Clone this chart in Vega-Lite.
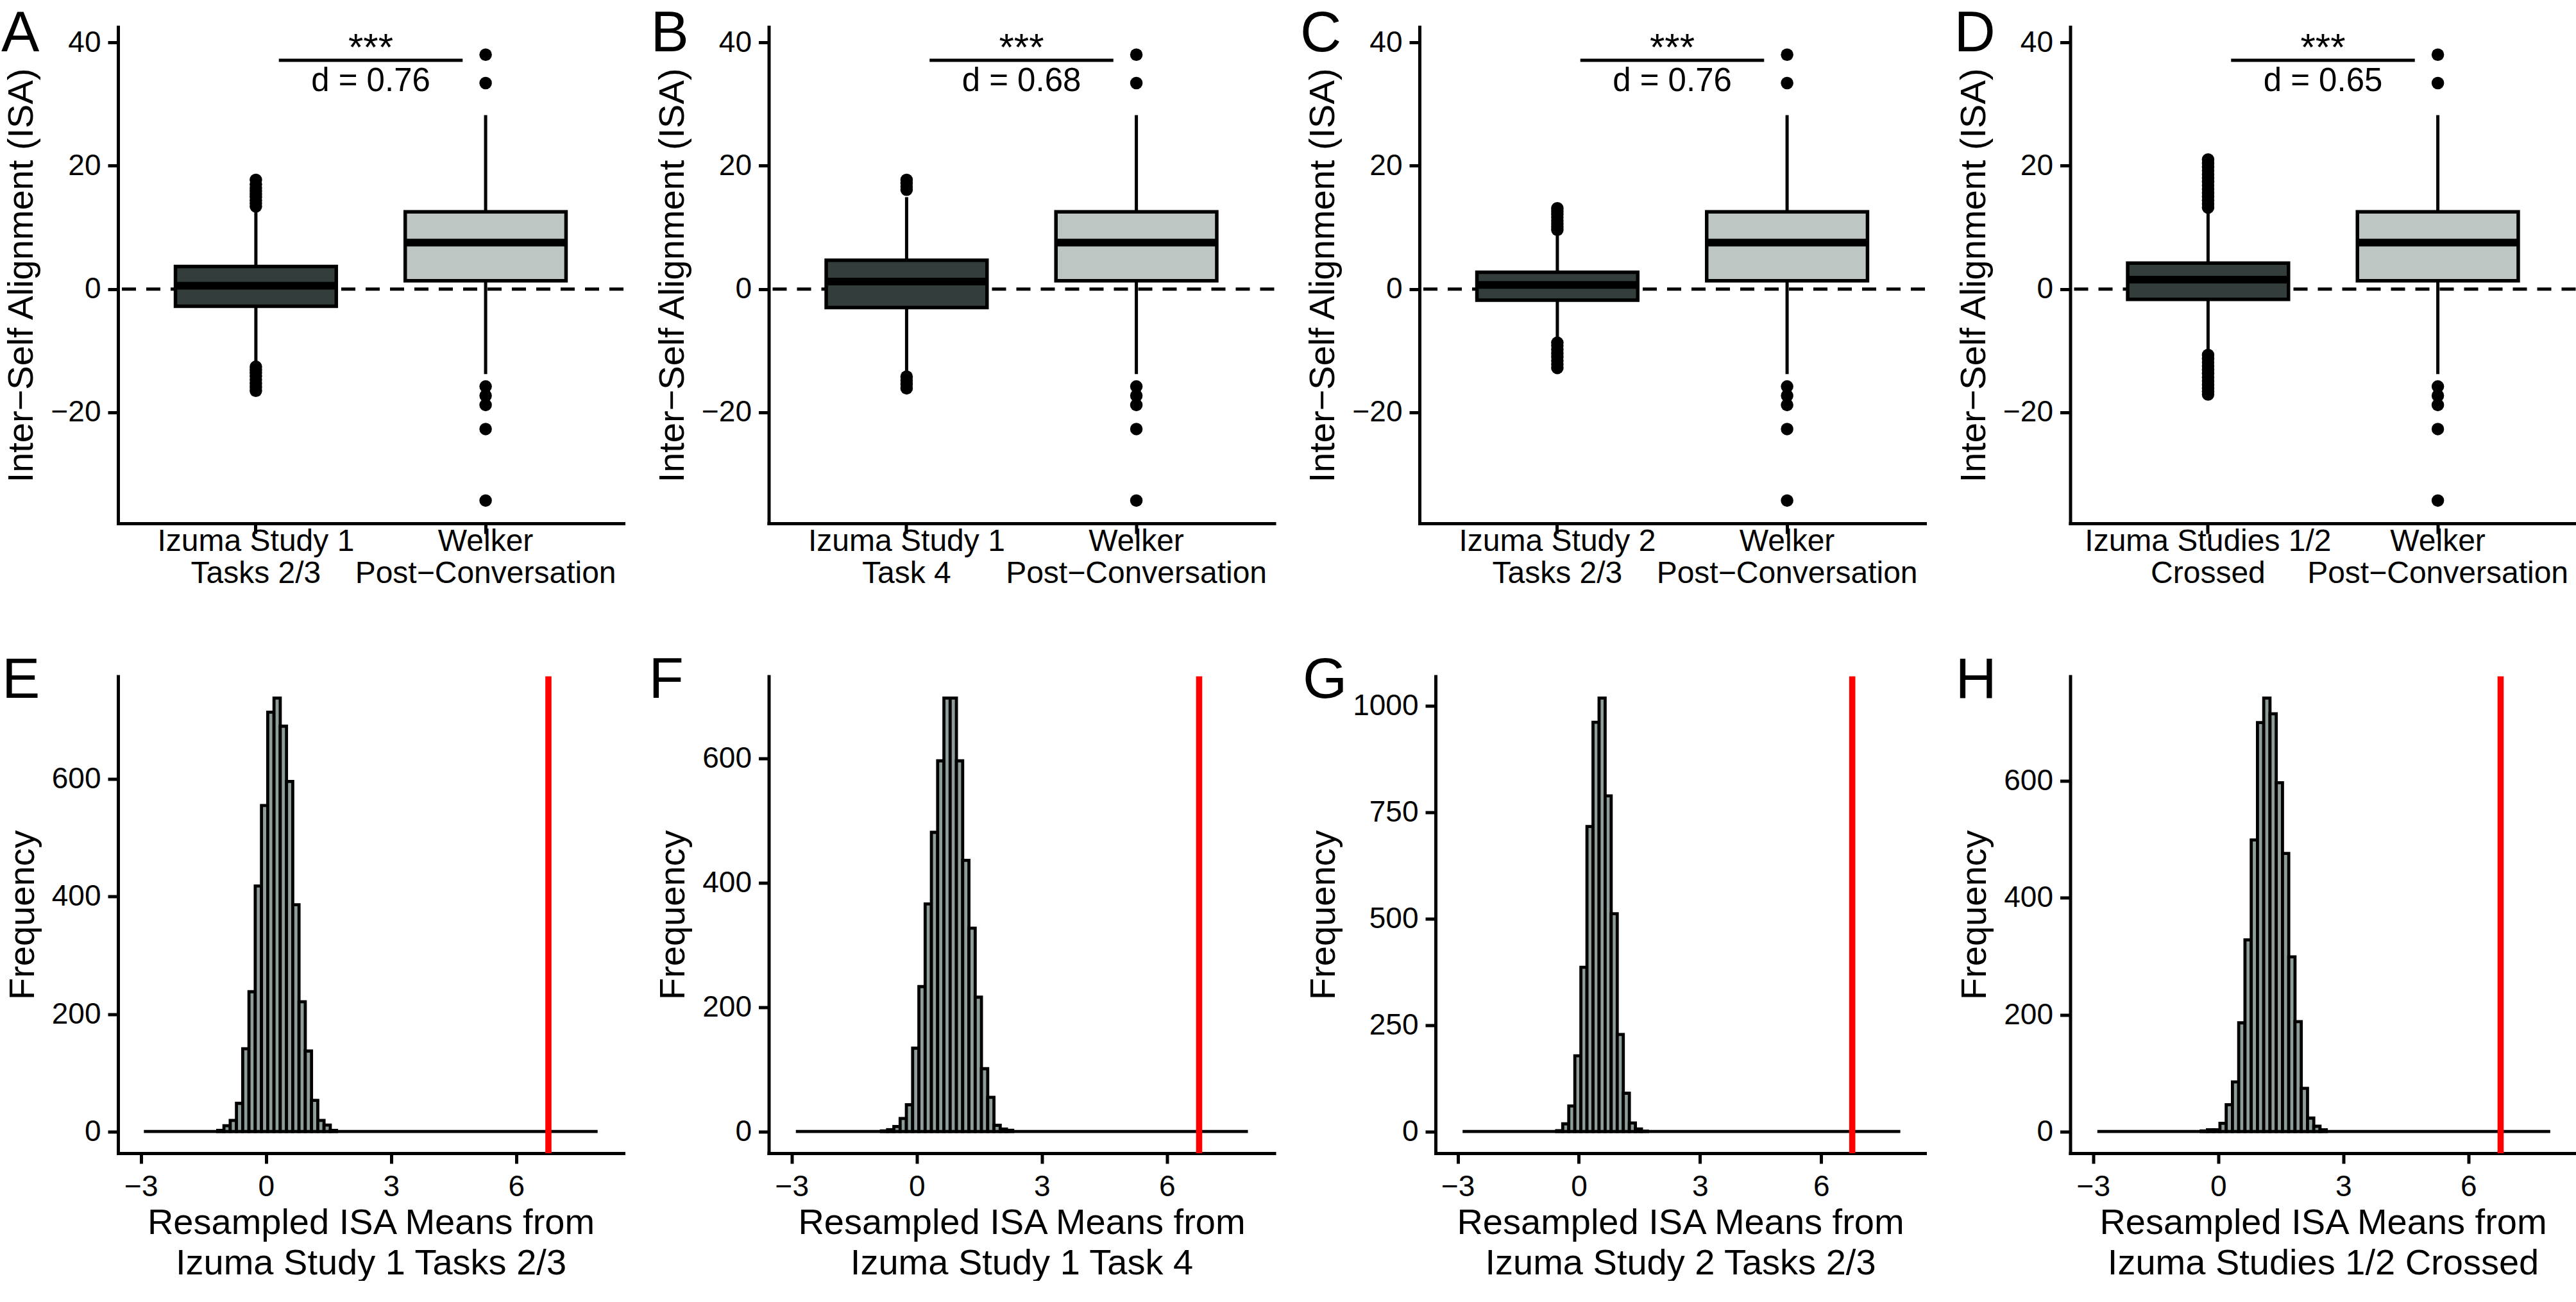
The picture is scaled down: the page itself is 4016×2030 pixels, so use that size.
{
"$schema": "https://vega.github.io/schema/vega-lite/v6.json",
"background": "white",
"autosize": {"type": "pad"},
"padding": {"left": 2, "top": 9, "right": 0, "bottom": 0},
"datasets": {
"boxes": [
{"panel":"A","group":"Izuma Study 1\nTasks 2/3","kind":"Izuma","lower":-12.3,"q1":-2.8,"median":0.53,"q3":3.66,"upper":13.0},
{"panel":"A","group":"Welker\nPost−Conversation","kind":"Welker","lower":-13.8,"q1":1.33,"median":7.53,"q3":12.53,"upper":28.2},
{"panel":"B","group":"Izuma Study 1\nTask 4","kind":"Izuma","lower":-13.6,"q1":-3.0,"median":1.2,"q3":4.66,"upper":14.9},
{"panel":"B","group":"Welker\nPost−Conversation","kind":"Welker","lower":-13.8,"q1":1.33,"median":7.53,"q3":12.53,"upper":28.2},
{"panel":"C","group":"Izuma Study 2\nTasks 2/3","kind":"Izuma","lower":-8.0,"q1":-1.8,"median":0.66,"q3":2.73,"upper":9.0},
{"panel":"C","group":"Welker\nPost−Conversation","kind":"Welker","lower":-13.8,"q1":1.33,"median":7.53,"q3":12.53,"upper":28.2},
{"panel":"D","group":"Izuma Studies 1/2\nCrossed","kind":"Izuma","lower":-10.3,"q1":-1.67,"median":1.53,"q3":4.2,"upper":12.5},
{"panel":"D","group":"Welker\nPost−Conversation","kind":"Welker","lower":-13.8,"q1":1.33,"median":7.53,"q3":12.53,"upper":28.2}
],
"outliers": [
{"panel":"A","group":"Izuma Study 1\nTasks 2/3","value":13.4},{"panel":"A","group":"Izuma Study 1\nTasks 2/3","value":13.9},{"panel":"A","group":"Izuma Study 1\nTasks 2/3","value":14.4},{"panel":"A","group":"Izuma Study 1\nTasks 2/3","value":14.9},{"panel":"A","group":"Izuma Study 1\nTasks 2/3","value":15.4},{"panel":"A","group":"Izuma Study 1\nTasks 2/3","value":15.9},{"panel":"A","group":"Izuma Study 1\nTasks 2/3","value":16.4},{"panel":"A","group":"Izuma Study 1\nTasks 2/3","value":17.0},{"panel":"A","group":"Izuma Study 1\nTasks 2/3","value":17.7},
{"panel":"A","group":"Izuma Study 1\nTasks 2/3","value":-12.6},{"panel":"A","group":"Izuma Study 1\nTasks 2/3","value":-13.1},{"panel":"A","group":"Izuma Study 1\nTasks 2/3","value":-13.6},{"panel":"A","group":"Izuma Study 1\nTasks 2/3","value":-14.1},{"panel":"A","group":"Izuma Study 1\nTasks 2/3","value":-14.7},{"panel":"A","group":"Izuma Study 1\nTasks 2/3","value":-15.3},{"panel":"A","group":"Izuma Study 1\nTasks 2/3","value":-15.9},{"panel":"A","group":"Izuma Study 1\nTasks 2/3","value":-16.5},
{"panel":"A","group":"Welker\nPost−Conversation","value":38.0},{"panel":"A","group":"Welker\nPost−Conversation","value":33.4},{"panel":"A","group":"Welker\nPost−Conversation","value":-15.8},{"panel":"A","group":"Welker\nPost−Conversation","value":-17.3},{"panel":"A","group":"Welker\nPost−Conversation","value":-18.8},{"panel":"A","group":"Welker\nPost−Conversation","value":-22.7},{"panel":"A","group":"Welker\nPost−Conversation","value":-34.3},
{"panel":"B","group":"Izuma Study 1\nTask 4","value":16.1},{"panel":"B","group":"Izuma Study 1\nTask 4","value":16.6},{"panel":"B","group":"Izuma Study 1\nTask 4","value":17.2},{"panel":"B","group":"Izuma Study 1\nTask 4","value":17.7},
{"panel":"B","group":"Izuma Study 1\nTask 4","value":-14.2},{"panel":"B","group":"Izuma Study 1\nTask 4","value":-14.8},{"panel":"B","group":"Izuma Study 1\nTask 4","value":-15.4},{"panel":"B","group":"Izuma Study 1\nTask 4","value":-16.1},
{"panel":"B","group":"Welker\nPost−Conversation","value":38.0},{"panel":"B","group":"Welker\nPost−Conversation","value":33.4},{"panel":"B","group":"Welker\nPost−Conversation","value":-15.8},{"panel":"B","group":"Welker\nPost−Conversation","value":-17.3},{"panel":"B","group":"Welker\nPost−Conversation","value":-18.8},{"panel":"B","group":"Welker\nPost−Conversation","value":-22.7},{"panel":"B","group":"Welker\nPost−Conversation","value":-34.3},
{"panel":"C","group":"Izuma Study 2\nTasks 2/3","value":9.6},{"panel":"C","group":"Izuma Study 2\nTasks 2/3","value":10.1},{"panel":"C","group":"Izuma Study 2\nTasks 2/3","value":10.6},{"panel":"C","group":"Izuma Study 2\nTasks 2/3","value":11.1},{"panel":"C","group":"Izuma Study 2\nTasks 2/3","value":11.6},{"panel":"C","group":"Izuma Study 2\nTasks 2/3","value":12.1},{"panel":"C","group":"Izuma Study 2\nTasks 2/3","value":12.6},{"panel":"C","group":"Izuma Study 2\nTasks 2/3","value":13.1},
{"panel":"C","group":"Izuma Study 2\nTasks 2/3","value":-8.7},{"panel":"C","group":"Izuma Study 2\nTasks 2/3","value":-9.2},{"panel":"C","group":"Izuma Study 2\nTasks 2/3","value":-9.8},{"panel":"C","group":"Izuma Study 2\nTasks 2/3","value":-10.4},{"panel":"C","group":"Izuma Study 2\nTasks 2/3","value":-11.0},{"panel":"C","group":"Izuma Study 2\nTasks 2/3","value":-11.6},{"panel":"C","group":"Izuma Study 2\nTasks 2/3","value":-12.2},{"panel":"C","group":"Izuma Study 2\nTasks 2/3","value":-12.8},
{"panel":"C","group":"Welker\nPost−Conversation","value":38.0},{"panel":"C","group":"Welker\nPost−Conversation","value":33.4},{"panel":"C","group":"Welker\nPost−Conversation","value":-15.8},{"panel":"C","group":"Welker\nPost−Conversation","value":-17.3},{"panel":"C","group":"Welker\nPost−Conversation","value":-18.8},{"panel":"C","group":"Welker\nPost−Conversation","value":-22.7},{"panel":"C","group":"Welker\nPost−Conversation","value":-34.3},
{"panel":"D","group":"Izuma Studies 1/2\nCrossed","value":13.2},{"panel":"D","group":"Izuma Studies 1/2\nCrossed","value":13.8},{"panel":"D","group":"Izuma Studies 1/2\nCrossed","value":14.4},{"panel":"D","group":"Izuma Studies 1/2\nCrossed","value":15.0},{"panel":"D","group":"Izuma Studies 1/2\nCrossed","value":15.6},{"panel":"D","group":"Izuma Studies 1/2\nCrossed","value":16.2},{"panel":"D","group":"Izuma Studies 1/2\nCrossed","value":16.8},{"panel":"D","group":"Izuma Studies 1/2\nCrossed","value":17.4},{"panel":"D","group":"Izuma Studies 1/2\nCrossed","value":18.0},{"panel":"D","group":"Izuma Studies 1/2\nCrossed","value":18.6},{"panel":"D","group":"Izuma Studies 1/2\nCrossed","value":19.2},{"panel":"D","group":"Izuma Studies 1/2\nCrossed","value":19.8},{"panel":"D","group":"Izuma Studies 1/2\nCrossed","value":20.4},{"panel":"D","group":"Izuma Studies 1/2\nCrossed","value":21.0},
{"panel":"D","group":"Izuma Studies 1/2\nCrossed","value":-10.7},{"panel":"D","group":"Izuma Studies 1/2\nCrossed","value":-11.3},{"panel":"D","group":"Izuma Studies 1/2\nCrossed","value":-11.9},{"panel":"D","group":"Izuma Studies 1/2\nCrossed","value":-12.5},{"panel":"D","group":"Izuma Studies 1/2\nCrossed","value":-13.1},{"panel":"D","group":"Izuma Studies 1/2\nCrossed","value":-13.7},{"panel":"D","group":"Izuma Studies 1/2\nCrossed","value":-14.3},{"panel":"D","group":"Izuma Studies 1/2\nCrossed","value":-14.9},{"panel":"D","group":"Izuma Studies 1/2\nCrossed","value":-15.5},{"panel":"D","group":"Izuma Studies 1/2\nCrossed","value":-16.1},{"panel":"D","group":"Izuma Studies 1/2\nCrossed","value":-16.6},{"panel":"D","group":"Izuma Studies 1/2\nCrossed","value":-17.1},
{"panel":"D","group":"Welker\nPost−Conversation","value":38.0},{"panel":"D","group":"Welker\nPost−Conversation","value":33.4},{"panel":"D","group":"Welker\nPost−Conversation","value":-15.8},{"panel":"D","group":"Welker\nPost−Conversation","value":-17.3},{"panel":"D","group":"Welker\nPost−Conversation","value":-18.8},{"panel":"D","group":"Welker\nPost−Conversation","value":-22.7},{"panel":"D","group":"Welker\nPost−Conversation","value":-34.3}
],
"sig": [
{"panel":"A","xmin":1.1,"xmax":1.9,"xmid":1.5,"ybar":37.1,"ytext":32.06,"stars":"***","label":"d = 0.76"},
{"panel":"B","xmin":1.1,"xmax":1.9,"xmid":1.5,"ybar":37.1,"ytext":32.06,"stars":"***","label":"d = 0.68"},
{"panel":"C","xmin":1.1,"xmax":1.9,"xmid":1.5,"ybar":37.1,"ytext":32.06,"stars":"***","label":"d = 0.76"},
{"panel":"D","xmin":1.1,"xmax":1.9,"xmid":1.5,"ybar":37.1,"ytext":32.06,"stars":"***","label":"d = 0.65"}
],
"hist": [
{"panel":"E","x0":-1.16,"x1":-1.01,"count":2},{"panel":"E","x0":-1.01,"x1":-0.86,"count":10},{"panel":"E","x0":-0.86,"x1":-0.71,"count":19},{"panel":"E","x0":-0.71,"x1":-0.56,"count":48},{"panel":"E","x0":-0.56,"x1":-0.41,"count":141},{"panel":"E","x0":-0.41,"x1":-0.26,"count":238},{"panel":"E","x0":-0.26,"x1":-0.11,"count":418},{"panel":"E","x0":-0.11,"x1":0.04,"count":555},{"panel":"E","x0":0.04,"x1":0.19,"count":714},{"panel":"E","x0":0.19,"x1":0.34,"count":738},{"panel":"E","x0":0.34,"x1":0.49,"count":690},{"panel":"E","x0":0.49,"x1":0.64,"count":596},{"panel":"E","x0":0.64,"x1":0.79,"count":386},{"panel":"E","x0":0.79,"x1":0.94,"count":221},{"panel":"E","x0":0.94,"x1":1.09,"count":137},{"panel":"E","x0":1.09,"x1":1.24,"count":53},{"panel":"E","x0":1.24,"x1":1.39,"count":19},{"panel":"E","x0":1.39,"x1":1.54,"count":11},{"panel":"E","x0":1.54,"x1":1.69,"count":2},
{"panel":"F","x0":-0.85,"x1":-0.70,"count":1},{"panel":"F","x0":-0.70,"x1":-0.55,"count":3},{"panel":"F","x0":-0.55,"x1":-0.40,"count":8},{"panel":"F","x0":-0.40,"x1":-0.25,"count":21},{"panel":"F","x0":-0.25,"x1":-0.10,"count":43},{"panel":"F","x0":-0.10,"x1":0.05,"count":134},{"panel":"F","x0":0.05,"x1":0.20,"count":233},{"panel":"F","x0":0.20,"x1":0.35,"count":366},{"panel":"F","x0":0.35,"x1":0.50,"count":481},{"panel":"F","x0":0.50,"x1":0.65,"count":596},{"panel":"F","x0":0.65,"x1":0.80,"count":697},{"panel":"F","x0":0.80,"x1":0.95,"count":697},{"panel":"F","x0":0.95,"x1":1.10,"count":596},{"panel":"F","x0":1.10,"x1":1.25,"count":436},{"panel":"F","x0":1.25,"x1":1.40,"count":327},{"panel":"F","x0":1.40,"x1":1.55,"count":216},{"panel":"F","x0":1.55,"x1":1.70,"count":101},{"panel":"F","x0":1.70,"x1":1.85,"count":55},{"panel":"F","x0":1.85,"x1":2.00,"count":10},{"panel":"F","x0":2.00,"x1":2.15,"count":4},{"panel":"F","x0":2.15,"x1":2.30,"count":2},
{"panel":"G","x0":-0.55,"x1":-0.40,"count":2},{"panel":"G","x0":-0.40,"x1":-0.25,"count":18},{"panel":"G","x0":-0.25,"x1":-0.10,"count":60},{"panel":"G","x0":-0.10,"x1":0.05,"count":178},{"panel":"G","x0":0.05,"x1":0.20,"count":386},{"panel":"G","x0":0.20,"x1":0.35,"count":717},{"panel":"G","x0":0.35,"x1":0.50,"count":962},{"panel":"G","x0":0.50,"x1":0.65,"count":1019},{"panel":"G","x0":0.65,"x1":0.80,"count":789},{"panel":"G","x0":0.80,"x1":0.95,"count":512},{"panel":"G","x0":0.95,"x1":1.10,"count":228},{"panel":"G","x0":1.10,"x1":1.25,"count":90},{"panel":"G","x0":1.25,"x1":1.40,"count":20},{"panel":"G","x0":1.40,"x1":1.55,"count":6},{"panel":"G","x0":1.55,"x1":1.70,"count":1},
{"panel":"H","x0":-0.41,"x1":-0.26,"count":1},{"panel":"H","x0":-0.26,"x1":-0.11,"count":3},{"panel":"H","x0":-0.11,"x1":0.04,"count":3},{"panel":"H","x0":0.04,"x1":0.19,"count":14},{"panel":"H","x0":0.19,"x1":0.34,"count":46},{"panel":"H","x0":0.34,"x1":0.49,"count":85},{"panel":"H","x0":0.49,"x1":0.64,"count":186},{"panel":"H","x0":0.64,"x1":0.79,"count":328},{"panel":"H","x0":0.79,"x1":0.94,"count":499},{"panel":"H","x0":0.94,"x1":1.09,"count":700},{"panel":"H","x0":1.09,"x1":1.24,"count":742},{"panel":"H","x0":1.24,"x1":1.39,"count":715},{"panel":"H","x0":1.39,"x1":1.54,"count":597},{"panel":"H","x0":1.54,"x1":1.69,"count":476},{"panel":"H","x0":1.69,"x1":1.84,"count":299},{"panel":"H","x0":1.84,"x1":1.99,"count":188},{"panel":"H","x0":1.99,"x1":2.14,"count":74},{"panel":"H","x0":2.14,"x1":2.29,"count":23},{"panel":"H","x0":2.29,"x1":2.44,"count":9},{"panel":"H","x0":2.44,"x1":2.59,"count":3}
],
"hbase": [
{"panel":"E","x0":-2.93,"x1":7.95},{"panel":"F","x0":-2.9,"x1":7.94},{"panel":"G","x0":-2.88,"x1":7.96},{"panel":"H","x0":-2.9,"x1":7.96}
],
"observed": [
{"panel":"E","value":6.77},{"panel":"F","value":6.77},{"panel":"G","value":6.77},{"panel":"H","value":6.77}
]
},
"concat": [
{
"title": {"text": "A", "dx": -182, "dy": 61},
"width": 788, "height": 774,
"resolve": {"scale": {"x": "independent"}},
"layer": [
{"layer": [
{"data": {"name": "sig"}, "transform": [{"filter": "datum.panel == 'A'"}], "mark": {"type": "rule", "strokeDash": [22, 16], "strokeWidth": 5, "color": "#000"}, "encoding": {"y": {"datum": 0, "type": "quantitative", "scale": {"domain": [-38, 42.5], "nice": false, "zero": false}}}},
{"data": {"name": "boxes"}, "transform": [{"filter": "datum.panel == 'A'"}], "mark": {"type": "rule", "strokeWidth": 5, "color": "#000"}, "encoding": {"x": {"field": "group", "type": "nominal", "scale": {"type": "band", "domain": ["Izuma Study 1\nTasks 2/3", "Welker\nPost−Conversation"], "paddingInner": 0, "paddingOuter": 0.1}}, "y": {"field": "lower", "type": "quantitative", "scale": {"domain": [-38, 42.5], "nice": false, "zero": false}}, "y2": {"field": "q1"}}},
{"data": {"name": "boxes"}, "transform": [{"filter": "datum.panel == 'A'"}], "mark": {"type": "rule", "strokeWidth": 5, "color": "#000"}, "encoding": {"x": {"field": "group", "type": "nominal", "scale": {"type": "band", "domain": ["Izuma Study 1\nTasks 2/3", "Welker\nPost−Conversation"], "paddingInner": 0, "paddingOuter": 0.1}}, "y": {"field": "q3", "type": "quantitative", "scale": {"domain": [-38, 42.5], "nice": false, "zero": false}}, "y2": {"field": "upper"}}},
{"data": {"name": "boxes"}, "transform": [{"filter": "datum.panel == 'A'"}], "mark": {"type": "bar", "width": {"band": 0.7}, "stroke": "#000", "strokeWidth": 5.5, "opacity": 1}, "encoding": {"x": {"field": "group", "type": "nominal", "scale": {"type": "band", "domain": ["Izuma Study 1\nTasks 2/3", "Welker\nPost−Conversation"], "paddingInner": 0, "paddingOuter": 0.1}, "axis": {"title": null, "labelExpr": "split(datum.label, '\\n')", "labelLineHeight": 50, "labelPadding": 12, "labelFontSize": 48, "labelAngle": 0, "labelAlign": "center"}}, "y": {"field": "q1", "type": "quantitative", "scale": {"domain": [-38, 42.5], "nice": false, "zero": false}, "axis": {"title": "Inter−Self Alignment (ISA)", "values": [-20, 0, 20, 40], "format": "d"}}, "y2": {"field": "q3"}, "color": {"field": "kind", "type": "nominal", "scale": {"domain": ["Izuma", "Welker"], "range": ["#333d3b", "#bec6c3"]}, "legend": null}}},
{"data": {"name": "boxes"}, "transform": [{"filter": "datum.panel == 'A'"}], "mark": {"type": "tick", "size": 251, "thickness": 12, "color": "#000", "opacity": 1}, "encoding": {"x": {"field": "group", "type": "nominal", "scale": {"type": "band", "domain": ["Izuma Study 1\nTasks 2/3", "Welker\nPost−Conversation"], "paddingInner": 0, "paddingOuter": 0.1}}, "y": {"field": "median", "type": "quantitative", "scale": {"domain": [-38, 42.5], "nice": false, "zero": false}}}},
{"data": {"name": "outliers"}, "transform": [{"filter": "datum.panel == 'A'"}], "mark": {"type": "point", "shape": "circle", "filled": true, "size": 380, "color": "#000", "opacity": 1}, "encoding": {"x": {"field": "group", "type": "nominal", "scale": {"type": "band", "domain": ["Izuma Study 1\nTasks 2/3", "Welker\nPost−Conversation"], "paddingInner": 0, "paddingOuter": 0.1}}, "y": {"field": "value", "type": "quantitative", "scale": {"domain": [-38, 42.5], "nice": false, "zero": false}}}}
]},
{"data": {"name": "sig"}, "transform": [{"filter": "datum.panel == 'A'"}], "layer": [
{"mark": {"type": "rule", "strokeWidth": 5, "color": "#000"}, "encoding": {"x": {"field": "xmin", "type": "quantitative", "scale": {"domain": [0.4, 2.6], "nice": false, "zero": false}, "axis": null}, "x2": {"field": "xmax"}, "y": {"field": "ybar", "type": "quantitative", "scale": {"domain": [-38, 42.5], "nice": false, "zero": false}}}},
{"mark": {"type": "text", "fontSize": 60, "baseline": "alphabetic", "align": "center", "color": "#000"}, "encoding": {"x": {"field": "xmid", "type": "quantitative", "scale": {"domain": [0.4, 2.6], "nice": false, "zero": false}, "axis": null}, "y": {"field": "ybar", "type": "quantitative", "scale": {"domain": [-38, 42.5], "nice": false, "zero": false}}, "text": {"field": "stars"}}},
{"mark": {"type": "text", "fontSize": 51, "baseline": "alphabetic", "align": "center", "color": "#000"}, "encoding": {"x": {"field": "xmid", "type": "quantitative", "scale": {"domain": [0.4, 2.6], "nice": false, "zero": false}, "axis": null}, "y": {"field": "ytext", "type": "quantitative", "scale": {"domain": [-38, 42.5], "nice": false, "zero": false}}, "text": {"field": "label"}}}
]}
]
},
{
"title": {"text": "B", "dx": -184, "dy": 61},
"width": 788, "height": 774,
"resolve": {"scale": {"x": "independent"}},
"layer": [
{"layer": [
{"data": {"name": "sig"}, "transform": [{"filter": "datum.panel == 'B'"}], "mark": {"type": "rule", "strokeDash": [22, 16], "strokeWidth": 5, "color": "#000"}, "encoding": {"y": {"datum": 0, "type": "quantitative", "scale": {"domain": [-38, 42.5], "nice": false, "zero": false}}}},
{"data": {"name": "boxes"}, "transform": [{"filter": "datum.panel == 'B'"}], "mark": {"type": "rule", "strokeWidth": 5, "color": "#000"}, "encoding": {"x": {"field": "group", "type": "nominal", "scale": {"type": "band", "domain": ["Izuma Study 1\nTask 4", "Welker\nPost−Conversation"], "paddingInner": 0, "paddingOuter": 0.1}}, "y": {"field": "lower", "type": "quantitative", "scale": {"domain": [-38, 42.5], "nice": false, "zero": false}}, "y2": {"field": "q1"}}},
{"data": {"name": "boxes"}, "transform": [{"filter": "datum.panel == 'B'"}], "mark": {"type": "rule", "strokeWidth": 5, "color": "#000"}, "encoding": {"x": {"field": "group", "type": "nominal", "scale": {"type": "band", "domain": ["Izuma Study 1\nTask 4", "Welker\nPost−Conversation"], "paddingInner": 0, "paddingOuter": 0.1}}, "y": {"field": "q3", "type": "quantitative", "scale": {"domain": [-38, 42.5], "nice": false, "zero": false}}, "y2": {"field": "upper"}}},
{"data": {"name": "boxes"}, "transform": [{"filter": "datum.panel == 'B'"}], "mark": {"type": "bar", "width": {"band": 0.7}, "stroke": "#000", "strokeWidth": 5.5, "opacity": 1}, "encoding": {"x": {"field": "group", "type": "nominal", "scale": {"type": "band", "domain": ["Izuma Study 1\nTask 4", "Welker\nPost−Conversation"], "paddingInner": 0, "paddingOuter": 0.1}, "axis": {"title": null, "labelExpr": "split(datum.label, '\\n')", "labelLineHeight": 50, "labelPadding": 12, "labelFontSize": 48, "labelAngle": 0, "labelAlign": "center"}}, "y": {"field": "q1", "type": "quantitative", "scale": {"domain": [-38, 42.5], "nice": false, "zero": false}, "axis": {"title": "Inter−Self Alignment (ISA)", "values": [-20, 0, 20, 40], "format": "d"}}, "y2": {"field": "q3"}, "color": {"field": "kind", "type": "nominal", "scale": {"domain": ["Izuma", "Welker"], "range": ["#333d3b", "#bec6c3"]}, "legend": null}}},
{"data": {"name": "boxes"}, "transform": [{"filter": "datum.panel == 'B'"}], "mark": {"type": "tick", "size": 251, "thickness": 12, "color": "#000", "opacity": 1}, "encoding": {"x": {"field": "group", "type": "nominal", "scale": {"type": "band", "domain": ["Izuma Study 1\nTask 4", "Welker\nPost−Conversation"], "paddingInner": 0, "paddingOuter": 0.1}}, "y": {"field": "median", "type": "quantitative", "scale": {"domain": [-38, 42.5], "nice": false, "zero": false}}}},
{"data": {"name": "outliers"}, "transform": [{"filter": "datum.panel == 'B'"}], "mark": {"type": "point", "shape": "circle", "filled": true, "size": 380, "color": "#000", "opacity": 1}, "encoding": {"x": {"field": "group", "type": "nominal", "scale": {"type": "band", "domain": ["Izuma Study 1\nTask 4", "Welker\nPost−Conversation"], "paddingInner": 0, "paddingOuter": 0.1}}, "y": {"field": "value", "type": "quantitative", "scale": {"domain": [-38, 42.5], "nice": false, "zero": false}}}}
]},
{"data": {"name": "sig"}, "transform": [{"filter": "datum.panel == 'B'"}], "layer": [
{"mark": {"type": "rule", "strokeWidth": 5, "color": "#000"}, "encoding": {"x": {"field": "xmin", "type": "quantitative", "scale": {"domain": [0.4, 2.6], "nice": false, "zero": false}, "axis": null}, "x2": {"field": "xmax"}, "y": {"field": "ybar", "type": "quantitative", "scale": {"domain": [-38, 42.5], "nice": false, "zero": false}}}},
{"mark": {"type": "text", "fontSize": 60, "baseline": "alphabetic", "align": "center", "color": "#000"}, "encoding": {"x": {"field": "xmid", "type": "quantitative", "scale": {"domain": [0.4, 2.6], "nice": false, "zero": false}, "axis": null}, "y": {"field": "ybar", "type": "quantitative", "scale": {"domain": [-38, 42.5], "nice": false, "zero": false}}, "text": {"field": "stars"}}},
{"mark": {"type": "text", "fontSize": 51, "baseline": "alphabetic", "align": "center", "color": "#000"}, "encoding": {"x": {"field": "xmid", "type": "quantitative", "scale": {"domain": [0.4, 2.6], "nice": false, "zero": false}, "axis": null}, "y": {"field": "ytext", "type": "quantitative", "scale": {"domain": [-38, 42.5], "nice": false, "zero": false}}, "text": {"field": "label"}}}
]}
]
},
{
"title": {"text": "C", "dx": -186, "dy": 61},
"width": 788, "height": 774,
"resolve": {"scale": {"x": "independent"}},
"layer": [
{"layer": [
{"data": {"name": "sig"}, "transform": [{"filter": "datum.panel == 'C'"}], "mark": {"type": "rule", "strokeDash": [22, 16], "strokeWidth": 5, "color": "#000"}, "encoding": {"y": {"datum": 0, "type": "quantitative", "scale": {"domain": [-38, 42.5], "nice": false, "zero": false}}}},
{"data": {"name": "boxes"}, "transform": [{"filter": "datum.panel == 'C'"}], "mark": {"type": "rule", "strokeWidth": 5, "color": "#000"}, "encoding": {"x": {"field": "group", "type": "nominal", "scale": {"type": "band", "domain": ["Izuma Study 2\nTasks 2/3", "Welker\nPost−Conversation"], "paddingInner": 0, "paddingOuter": 0.1}}, "y": {"field": "lower", "type": "quantitative", "scale": {"domain": [-38, 42.5], "nice": false, "zero": false}}, "y2": {"field": "q1"}}},
{"data": {"name": "boxes"}, "transform": [{"filter": "datum.panel == 'C'"}], "mark": {"type": "rule", "strokeWidth": 5, "color": "#000"}, "encoding": {"x": {"field": "group", "type": "nominal", "scale": {"type": "band", "domain": ["Izuma Study 2\nTasks 2/3", "Welker\nPost−Conversation"], "paddingInner": 0, "paddingOuter": 0.1}}, "y": {"field": "q3", "type": "quantitative", "scale": {"domain": [-38, 42.5], "nice": false, "zero": false}}, "y2": {"field": "upper"}}},
{"data": {"name": "boxes"}, "transform": [{"filter": "datum.panel == 'C'"}], "mark": {"type": "bar", "width": {"band": 0.7}, "stroke": "#000", "strokeWidth": 5.5, "opacity": 1}, "encoding": {"x": {"field": "group", "type": "nominal", "scale": {"type": "band", "domain": ["Izuma Study 2\nTasks 2/3", "Welker\nPost−Conversation"], "paddingInner": 0, "paddingOuter": 0.1}, "axis": {"title": null, "labelExpr": "split(datum.label, '\\n')", "labelLineHeight": 50, "labelPadding": 12, "labelFontSize": 48, "labelAngle": 0, "labelAlign": "center"}}, "y": {"field": "q1", "type": "quantitative", "scale": {"domain": [-38, 42.5], "nice": false, "zero": false}, "axis": {"title": "Inter−Self Alignment (ISA)", "values": [-20, 0, 20, 40], "format": "d"}}, "y2": {"field": "q3"}, "color": {"field": "kind", "type": "nominal", "scale": {"domain": ["Izuma", "Welker"], "range": ["#333d3b", "#bec6c3"]}, "legend": null}}},
{"data": {"name": "boxes"}, "transform": [{"filter": "datum.panel == 'C'"}], "mark": {"type": "tick", "size": 251, "thickness": 12, "color": "#000", "opacity": 1}, "encoding": {"x": {"field": "group", "type": "nominal", "scale": {"type": "band", "domain": ["Izuma Study 2\nTasks 2/3", "Welker\nPost−Conversation"], "paddingInner": 0, "paddingOuter": 0.1}}, "y": {"field": "median", "type": "quantitative", "scale": {"domain": [-38, 42.5], "nice": false, "zero": false}}}},
{"data": {"name": "outliers"}, "transform": [{"filter": "datum.panel == 'C'"}], "mark": {"type": "point", "shape": "circle", "filled": true, "size": 380, "color": "#000", "opacity": 1}, "encoding": {"x": {"field": "group", "type": "nominal", "scale": {"type": "band", "domain": ["Izuma Study 2\nTasks 2/3", "Welker\nPost−Conversation"], "paddingInner": 0, "paddingOuter": 0.1}}, "y": {"field": "value", "type": "quantitative", "scale": {"domain": [-38, 42.5], "nice": false, "zero": false}}}}
]},
{"data": {"name": "sig"}, "transform": [{"filter": "datum.panel == 'C'"}], "layer": [
{"mark": {"type": "rule", "strokeWidth": 5, "color": "#000"}, "encoding": {"x": {"field": "xmin", "type": "quantitative", "scale": {"domain": [0.4, 2.6], "nice": false, "zero": false}, "axis": null}, "x2": {"field": "xmax"}, "y": {"field": "ybar", "type": "quantitative", "scale": {"domain": [-38, 42.5], "nice": false, "zero": false}}}},
{"mark": {"type": "text", "fontSize": 60, "baseline": "alphabetic", "align": "center", "color": "#000"}, "encoding": {"x": {"field": "xmid", "type": "quantitative", "scale": {"domain": [0.4, 2.6], "nice": false, "zero": false}, "axis": null}, "y": {"field": "ybar", "type": "quantitative", "scale": {"domain": [-38, 42.5], "nice": false, "zero": false}}, "text": {"field": "stars"}}},
{"mark": {"type": "text", "fontSize": 51, "baseline": "alphabetic", "align": "center", "color": "#000"}, "encoding": {"x": {"field": "xmid", "type": "quantitative", "scale": {"domain": [0.4, 2.6], "nice": false, "zero": false}, "axis": null}, "y": {"field": "ytext", "type": "quantitative", "scale": {"domain": [-38, 42.5], "nice": false, "zero": false}}, "text": {"field": "label"}}}
]}
]
},
{
"title": {"text": "D", "dx": -181, "dy": 61},
"width": 788, "height": 774,
"resolve": {"scale": {"x": "independent"}},
"layer": [
{"layer": [
{"data": {"name": "sig"}, "transform": [{"filter": "datum.panel == 'D'"}], "mark": {"type": "rule", "strokeDash": [22, 16], "strokeWidth": 5, "color": "#000"}, "encoding": {"y": {"datum": 0, "type": "quantitative", "scale": {"domain": [-38, 42.5], "nice": false, "zero": false}}}},
{"data": {"name": "boxes"}, "transform": [{"filter": "datum.panel == 'D'"}], "mark": {"type": "rule", "strokeWidth": 5, "color": "#000"}, "encoding": {"x": {"field": "group", "type": "nominal", "scale": {"type": "band", "domain": ["Izuma Studies 1/2\nCrossed", "Welker\nPost−Conversation"], "paddingInner": 0, "paddingOuter": 0.1}}, "y": {"field": "lower", "type": "quantitative", "scale": {"domain": [-38, 42.5], "nice": false, "zero": false}}, "y2": {"field": "q1"}}},
{"data": {"name": "boxes"}, "transform": [{"filter": "datum.panel == 'D'"}], "mark": {"type": "rule", "strokeWidth": 5, "color": "#000"}, "encoding": {"x": {"field": "group", "type": "nominal", "scale": {"type": "band", "domain": ["Izuma Studies 1/2\nCrossed", "Welker\nPost−Conversation"], "paddingInner": 0, "paddingOuter": 0.1}}, "y": {"field": "q3", "type": "quantitative", "scale": {"domain": [-38, 42.5], "nice": false, "zero": false}}, "y2": {"field": "upper"}}},
{"data": {"name": "boxes"}, "transform": [{"filter": "datum.panel == 'D'"}], "mark": {"type": "bar", "width": {"band": 0.7}, "stroke": "#000", "strokeWidth": 5.5, "opacity": 1}, "encoding": {"x": {"field": "group", "type": "nominal", "scale": {"type": "band", "domain": ["Izuma Studies 1/2\nCrossed", "Welker\nPost−Conversation"], "paddingInner": 0, "paddingOuter": 0.1}, "axis": {"title": null, "labelExpr": "split(datum.label, '\\n')", "labelLineHeight": 50, "labelPadding": 12, "labelFontSize": 48, "labelAngle": 0, "labelAlign": "center"}}, "y": {"field": "q1", "type": "quantitative", "scale": {"domain": [-38, 42.5], "nice": false, "zero": false}, "axis": {"title": "Inter−Self Alignment (ISA)", "values": [-20, 0, 20, 40], "format": "d"}}, "y2": {"field": "q3"}, "color": {"field": "kind", "type": "nominal", "scale": {"domain": ["Izuma", "Welker"], "range": ["#333d3b", "#bec6c3"]}, "legend": null}}},
{"data": {"name": "boxes"}, "transform": [{"filter": "datum.panel == 'D'"}], "mark": {"type": "tick", "size": 251, "thickness": 12, "color": "#000", "opacity": 1}, "encoding": {"x": {"field": "group", "type": "nominal", "scale": {"type": "band", "domain": ["Izuma Studies 1/2\nCrossed", "Welker\nPost−Conversation"], "paddingInner": 0, "paddingOuter": 0.1}}, "y": {"field": "median", "type": "quantitative", "scale": {"domain": [-38, 42.5], "nice": false, "zero": false}}}},
{"data": {"name": "outliers"}, "transform": [{"filter": "datum.panel == 'D'"}], "mark": {"type": "point", "shape": "circle", "filled": true, "size": 380, "color": "#000", "opacity": 1}, "encoding": {"x": {"field": "group", "type": "nominal", "scale": {"type": "band", "domain": ["Izuma Studies 1/2\nCrossed", "Welker\nPost−Conversation"], "paddingInner": 0, "paddingOuter": 0.1}}, "y": {"field": "value", "type": "quantitative", "scale": {"domain": [-38, 42.5], "nice": false, "zero": false}}}}
]},
{"data": {"name": "sig"}, "transform": [{"filter": "datum.panel == 'D'"}], "layer": [
{"mark": {"type": "rule", "strokeWidth": 5, "color": "#000"}, "encoding": {"x": {"field": "xmin", "type": "quantitative", "scale": {"domain": [0.4, 2.6], "nice": false, "zero": false}, "axis": null}, "x2": {"field": "xmax"}, "y": {"field": "ybar", "type": "quantitative", "scale": {"domain": [-38, 42.5], "nice": false, "zero": false}}}},
{"mark": {"type": "text", "fontSize": 60, "baseline": "alphabetic", "align": "center", "color": "#000"}, "encoding": {"x": {"field": "xmid", "type": "quantitative", "scale": {"domain": [0.4, 2.6], "nice": false, "zero": false}, "axis": null}, "y": {"field": "ybar", "type": "quantitative", "scale": {"domain": [-38, 42.5], "nice": false, "zero": false}}, "text": {"field": "stars"}}},
{"mark": {"type": "text", "fontSize": 51, "baseline": "alphabetic", "align": "center", "color": "#000"}, "encoding": {"x": {"field": "xmid", "type": "quantitative", "scale": {"domain": [0.4, 2.6], "nice": false, "zero": false}, "axis": null}, "y": {"field": "ytext", "type": "quantitative", "scale": {"domain": [-38, 42.5], "nice": false, "zero": false}}, "text": {"field": "label"}}}
]}
]
},
{
"title": {"text": "E", "dx": -181, "dy": 61},
"width": 788, "height": 743.5,
"layer": [
{"data": {"name": "hbase"}, "transform": [{"filter": "datum.panel == 'E'"}], "mark": {"type": "rule", "strokeWidth": 4.8, "color": "#000"}, "encoding": {"x": {"field": "x0", "type": "quantitative", "scale": {"domain": [-3.55, 8.57], "nice": false, "zero": false}}, "x2": {"field": "x1"}, "y": {"datum": 0, "type": "quantitative", "scale": {"domain": [-36.9, 774.9], "nice": false, "zero": false}}}},
{"data": {"name": "hist"}, "transform": [{"filter": "datum.panel == 'E'"}], "mark": {"type": "bar", "fill": "#8e9c9a", "stroke": "#000", "strokeWidth": 4.8, "opacity": 1}, "encoding": {"x": {"field": "x0", "type": "quantitative", "scale": {"domain": [-3.55, 8.57], "nice": false, "zero": false}, "axis": {"title": ["Resampled ISA Means from", "Izuma Study 1 Tasks 2/3"], "values": [-3, 0, 3, 6], "format": "d", "labelPadding": 14, "titlePadding": 6, "titleLineHeight": 63}}, "x2": {"field": "x1"}, "y": {"field": "count", "type": "quantitative", "scale": {"domain": [-36.9, 774.9], "nice": false, "zero": false}, "axis": {"title": "Frequency", "values": [0, 200, 400, 600], "format": "d"}}, "y2": {"datum": 0}}},
{"data": {"name": "observed"}, "transform": [{"filter": "datum.panel == 'E'"}], "mark": {"type": "rule", "strokeWidth": 9.6, "color": "#ff0000"}, "encoding": {"x": {"field": "value", "type": "quantitative", "scale": {"domain": [-3.55, 8.57], "nice": false, "zero": false}}}}
]
},
{
"title": {"text": "F", "dx": -187, "dy": 61},
"width": 788, "height": 743.5,
"layer": [
{"data": {"name": "hbase"}, "transform": [{"filter": "datum.panel == 'F'"}], "mark": {"type": "rule", "strokeWidth": 4.8, "color": "#000"}, "encoding": {"x": {"field": "x0", "type": "quantitative", "scale": {"domain": [-3.55, 8.57], "nice": false, "zero": false}}, "x2": {"field": "x1"}, "y": {"datum": 0, "type": "quantitative", "scale": {"domain": [-34.85, 731.85], "nice": false, "zero": false}}}},
{"data": {"name": "hist"}, "transform": [{"filter": "datum.panel == 'F'"}], "mark": {"type": "bar", "fill": "#8e9c9a", "stroke": "#000", "strokeWidth": 4.8, "opacity": 1}, "encoding": {"x": {"field": "x0", "type": "quantitative", "scale": {"domain": [-3.55, 8.57], "nice": false, "zero": false}, "axis": {"title": ["Resampled ISA Means from", "Izuma Study 1 Task 4"], "values": [-3, 0, 3, 6], "format": "d", "labelPadding": 14, "titlePadding": 6, "titleLineHeight": 63}}, "x2": {"field": "x1"}, "y": {"field": "count", "type": "quantitative", "scale": {"domain": [-34.85, 731.85], "nice": false, "zero": false}, "axis": {"title": "Frequency", "values": [0, 200, 400, 600], "format": "d"}}, "y2": {"datum": 0}}},
{"data": {"name": "observed"}, "transform": [{"filter": "datum.panel == 'F'"}], "mark": {"type": "rule", "strokeWidth": 9.6, "color": "#ff0000"}, "encoding": {"x": {"field": "value", "type": "quantitative", "scale": {"domain": [-3.55, 8.57], "nice": false, "zero": false}}}}
]
},
{
"title": {"text": "G", "dx": -182, "dy": 61},
"width": 788, "height": 743.5,
"layer": [
{"data": {"name": "hbase"}, "transform": [{"filter": "datum.panel == 'G'"}], "mark": {"type": "rule", "strokeWidth": 4.8, "color": "#000"}, "encoding": {"x": {"field": "x0", "type": "quantitative", "scale": {"domain": [-3.55, 8.57], "range": [25, 788], "nice": false, "zero": false}}, "x2": {"field": "x1"}, "y": {"datum": 0, "type": "quantitative", "scale": {"domain": [-50.95, 1069.95], "nice": false, "zero": false}}}},
{"data": {"name": "hist"}, "transform": [{"filter": "datum.panel == 'G'"}], "mark": {"type": "bar", "fill": "#8e9c9a", "stroke": "#000", "strokeWidth": 4.8, "opacity": 1}, "encoding": {"x": {"field": "x0", "type": "quantitative", "scale": {"domain": [-3.55, 8.57], "range": [25, 788], "nice": false, "zero": false}, "axis": {"title": ["Resampled ISA Means from", "Izuma Study 2 Tasks 2/3"], "values": [-3, 0, 3, 6], "format": "d", "labelPadding": 14, "titlePadding": 6, "titleLineHeight": 63}}, "x2": {"field": "x1"}, "y": {"field": "count", "type": "quantitative", "scale": {"domain": [-50.95, 1069.95], "nice": false, "zero": false}, "axis": {"title": "Frequency", "values": [0, 250, 500, 750, 1000], "format": "d", "offset": -25}}, "y2": {"datum": 0}}},
{"data": {"name": "observed"}, "transform": [{"filter": "datum.panel == 'G'"}], "mark": {"type": "rule", "strokeWidth": 9.6, "color": "#ff0000"}, "encoding": {"x": {"field": "value", "type": "quantitative", "scale": {"domain": [-3.55, 8.57], "range": [25, 788], "nice": false, "zero": false}}}}
]
},
{
"title": {"text": "H", "dx": -179, "dy": 61},
"width": 788, "height": 743.5,
"layer": [
{"data": {"name": "hbase"}, "transform": [{"filter": "datum.panel == 'H'"}], "mark": {"type": "rule", "strokeWidth": 4.8, "color": "#000"}, "encoding": {"x": {"field": "x0", "type": "quantitative", "scale": {"domain": [-3.55, 8.57], "nice": false, "zero": false}}, "x2": {"field": "x1"}, "y": {"datum": 0, "type": "quantitative", "scale": {"domain": [-37.1, 779.1], "nice": false, "zero": false}}}},
{"data": {"name": "hist"}, "transform": [{"filter": "datum.panel == 'H'"}], "mark": {"type": "bar", "fill": "#8e9c9a", "stroke": "#000", "strokeWidth": 4.8, "opacity": 1}, "encoding": {"x": {"field": "x0", "type": "quantitative", "scale": {"domain": [-3.55, 8.57], "nice": false, "zero": false}, "axis": {"title": ["Resampled ISA Means from", "Izuma Studies 1/2 Crossed"], "values": [-3, 0, 3, 6], "format": "d", "labelPadding": 14, "titlePadding": 6, "titleLineHeight": 63}}, "x2": {"field": "x1"}, "y": {"field": "count", "type": "quantitative", "scale": {"domain": [-37.1, 779.1], "nice": false, "zero": false}, "axis": {"title": "Frequency", "values": [0, 200, 400, 600], "format": "d"}}, "y2": {"datum": 0}}},
{"data": {"name": "observed"}, "transform": [{"filter": "datum.panel == 'H'"}], "mark": {"type": "rule", "strokeWidth": 9.6, "color": "#ff0000"}, "encoding": {"x": {"field": "value", "type": "quantitative", "scale": {"domain": [-3.55, 8.57], "nice": false, "zero": false}}}}
]
}
],
"columns": 4,
"spacing": {"row": 238.5, "column": 226.5},
"bounds": "flush",
"config": {
"view": {"stroke": null},
"font": "Liberation Sans",
"text": {"font": "Liberation Sans"},
"axis": {"labelFont": "Liberation Sans", "titleFont": "Liberation Sans", "labelFontSize": 46, "titleFontSize": 56, "titleFontWeight": "normal", "labelColor": "#000", "titleColor": "#000", "domainColor": "#000", "tickColor": "#000", "domainWidth": 5, "tickWidth": 5, "tickSize": 16, "grid": false, "labelPadding": 11, "titlePadding": 16, "domainCap": "square", "labelFlush": false, "labelOverlap": false, "labelLimit": 0},
"title": {"font": "Liberation Sans", "fontSize": 89, "fontWeight": "normal", "color": "#000", "anchor": "start", "frame": "group", "offset": 0, "baseline": "alphabetic"}
}
}
